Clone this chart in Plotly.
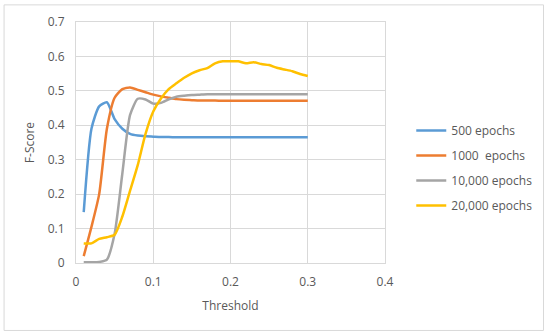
import plotly.graph_objects as go

thresholds = [round(0.01 * i, 2) for i in range(1, 31)]

names = ["500 epochs", "1000\u00a0 epochs", "10,000 epochs", "20,000 epochs"]
colors = ["#5B9BD5", "#ED7D31", "#A5A5A5", "#FFC000"]

f500 = [0.148, 0.39, 0.455, 0.467, 0.418, 0.39, 0.375, 0.37, 0.368, 0.367,
        0.366, 0.366, 0.365, 0.365, 0.365, 0.365, 0.365, 0.365, 0.365, 0.365,
        0.365, 0.365, 0.365, 0.365, 0.365, 0.365, 0.365, 0.365, 0.365, 0.365]
f1000 = [0.02, 0.105, 0.2, 0.39, 0.48, 0.505, 0.51, 0.503, 0.496, 0.489,
         0.484, 0.48, 0.476, 0.474, 0.473, 0.472, 0.472, 0.472, 0.471, 0.471,
         0.471, 0.471, 0.471, 0.471, 0.471, 0.471, 0.471, 0.471, 0.471, 0.471]
f10000 = [0.002, 0.002, 0.003, 0.01, 0.085, 0.26, 0.43, 0.477, 0.475, 0.463,
          0.465, 0.475, 0.483, 0.486, 0.488, 0.489, 0.49, 0.49, 0.49, 0.49,
          0.49, 0.49, 0.49, 0.49, 0.49, 0.49, 0.49, 0.49, 0.49, 0.49]
f20000 = [0.057, 0.057, 0.07, 0.075, 0.082, 0.135, 0.21, 0.285, 0.375, 0.44,
          0.478, 0.505, 0.522, 0.538, 0.551, 0.56, 0.566, 0.58, 0.586, 0.586,
          0.586, 0.58, 0.583, 0.578, 0.575, 0.567, 0.562, 0.557, 0.549, 0.543]

series = [f500, f1000, f10000, f20000]

fig = go.Figure()
for i, (n, c, ys) in enumerate(zip(names, colors, series)):
    fig.add_trace(go.Scatter(
        x=thresholds, y=ys, mode="lines", name=n,
        line=dict(color=c, width=2.5, shape="spline", smoothing=0.6),
        legendgroup=f"g{i}",
    ))

font_family = "Open Sans, Liberation Sans, sans-serif"
txt = "#595959"
grid = "#D9D9D9"

fig.update_layout(
    width=550, height=336,
    margin=dict(l=76, r=165, t=22, b=73),
    paper_bgcolor="white", plot_bgcolor="white",
    font=dict(family=font_family, size=12, color=txt),
    showlegend=True,
    legend=dict(x=1.085, xanchor="left", y=0.394, yanchor="middle",
                font=dict(size=12, color=txt), tracegroupgap=6,
                bgcolor="rgba(0,0,0,0)"),
    xaxis=dict(range=[0, 0.4], tickvals=[0, 0.1, 0.2, 0.3, 0.4],
               ticktext=["0", "0.1", "0.2", "0.3", "0.4"],
               showgrid=True, gridcolor=grid, gridwidth=1,
               zeroline=False, showline=True, linecolor=grid, linewidth=1,
               ticks="", ticklabelstandoff=8,
               title=dict(text="Threshold", font=dict(size=12, color=txt), standoff=12),
               mirror=True),
    yaxis=dict(range=[0, 0.7], tickvals=[0, 0.1, 0.2, 0.3, 0.4, 0.5, 0.6, 0.7],
               ticktext=["0", "0.1", "0.2", "0.3", "0.4", "0.5", "0.6", "0.7"],
               showgrid=True, gridcolor=grid, gridwidth=1,
               zeroline=False, showline=True, linecolor=grid, linewidth=1,
               ticks="", ticklabelstandoff=8,
               title=dict(text="F-Score", font=dict(size=12, color=txt), standoff=10),
               mirror=True),
    shapes=[dict(type="rect", xref="paper", yref="paper",
                 x0=-0.2328, x1=1.513, y0=-0.280, y1=1.071,
                 line=dict(color=grid, width=1), fillcolor="rgba(0,0,0,0)",
                 layer="below")],
)

fig.write_html("out.html",
               config={"displayModeBar": False},
               post_script="document.body.style.margin='0';document.body.style.overflow='hidden';")
